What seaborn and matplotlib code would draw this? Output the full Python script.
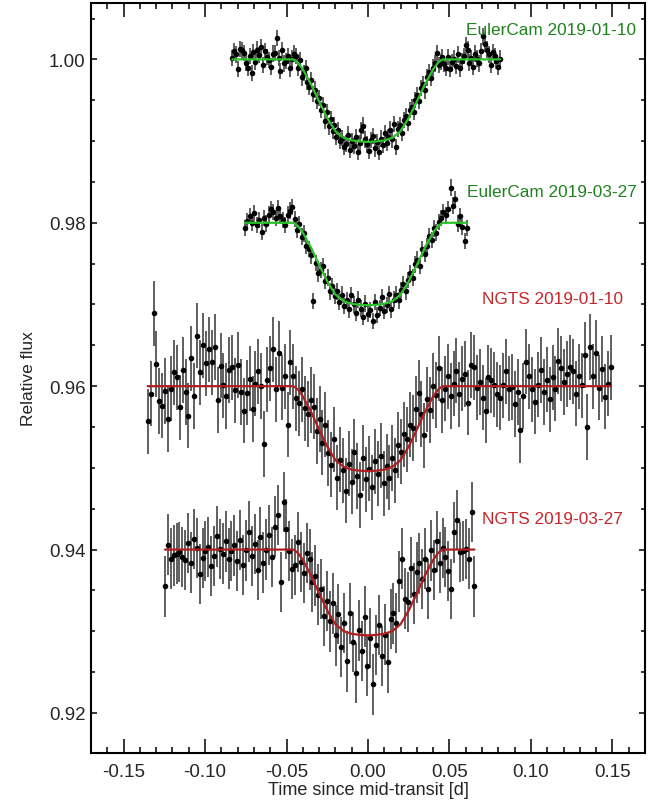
import numpy as np
import pandas as pd
import matplotlib
matplotlib.use("Agg")
import matplotlib.pyplot as plt
import seaborn as sns
from matplotlib.ticker import MultipleLocator, FormatStrFormatter

# ---------------- data ----------------
dataset_names = ["EulerCam 2019-01-10", "EulerCam 2019-03-27", "NGTS 2019-01-10", "NGTS 2019-03-27"]
dataset_colors_text = ["#1f821f", "#1f821f", "#c4262b", "#c4262b"]
dataset_colors_line = ["#2cc22c", "#2cc22c", "#b01e1e", "#b01e1e"]
baselines = [1.000, 0.980, 0.960, 0.940]
depths = [0.0101, 0.0101, 0.0104, 0.0105]
time_first = [-0.0833, -0.0755, -0.1352, -0.1246]
time_last = [0.0812, 0.0608, 0.1490, 0.0653]
flux_errors = [0.0010, 0.0010, 0.0040, 0.0037]
label_x = [0.060, 0.0605, 0.070, 0.070]
label_y = [1.0037, 0.9838, 0.9707, 0.9438]

flux_euler_0110 = [
    1.0002, 1.0010, 1.0006, 0.9988, 1.0013, 1.0011, 1.0008, 0.9996, 0.9990, 1.0004,
    0.9983, 1.0009, 0.9997, 1.0012, 1.0005, 1.0015, 0.9993, 1.0010, 1.0003, 0.9999,
    0.9991, 1.0007, 1.0008, 1.0026, 1.0002, 0.9986, 1.0011, 0.9995, 0.9998, 1.0004,
    0.9989, 1.0001, 1.0007,
    1.0004, 0.9990, 0.9999, 0.9978, 0.9983, 0.9989, 0.9972, 0.9966, 0.9975, 0.9958,
    0.9963, 0.9949, 0.9953, 0.9938, 0.9944, 0.9925, 0.9935, 0.9918, 0.9927, 0.9912,
    0.9920, 0.9905, 0.9913, 0.9900,
    0.9904, 0.9893, 0.9897, 0.9908, 0.9889, 0.9900, 0.9894, 0.9905, 0.9887, 0.9898,
    0.9913, 0.9919, 0.9902, 0.9896, 0.9888, 0.9901, 0.9906, 0.9891, 0.9899, 0.9887,
    0.9903, 0.9895, 0.9910, 0.9898, 0.9905, 0.9914, 0.9902, 0.9921,
    0.9893, 0.9915, 0.9920, 0.9910, 0.9926, 0.9931, 0.9922, 0.9938, 0.9942, 0.9936,
    0.9950, 0.9956, 0.9949, 0.9965, 0.9970, 0.9962, 0.9978, 0.9984, 0.9977, 0.9990,
    0.9995, 1.0008, 0.9993, 0.9997, 1.0003,
    0.9994, 0.9990, 1.0003, 0.9988, 0.9997, 1.0001, 0.9992, 1.0006, 0.9989, 0.9998,
    1.0004, 1.0017, 1.0012, 0.9996, 1.0002, 0.9991, 1.0007, 1.0001, 0.9995, 1.0010,
    1.0028, 1.0019, 1.0012, 1.0006, 0.9993, 1.0009, 1.0004, 0.9998, 0.9991, 1.0001,
]

flux_euler_0327 = [
    0.9794, 0.9802, 0.9808, 0.9800, 0.9812, 0.9797, 0.9803, 0.9789, 0.9806, 0.9799,
    0.9810, 0.9817, 0.9813, 0.9806, 0.9818, 0.9808, 0.9803, 0.9797, 0.9810, 0.9815,
    0.9819, 0.9805,
    0.9791, 0.9798, 0.9783, 0.9787, 0.9772, 0.9768, 0.9760, 0.9704, 0.9751, 0.9738,
    0.9742, 0.9747, 0.9729, 0.9733, 0.9716, 0.9722, 0.9710, 0.9716, 0.9703, 0.9712,
    0.9698,
    0.9705, 0.9694, 0.9711, 0.9700, 0.9690, 0.9706, 0.9695, 0.9685, 0.9701, 0.9688,
    0.9693, 0.9680, 0.9703, 0.9687, 0.9696, 0.9709, 0.9692, 0.9699, 0.9713, 0.9694,
    0.9706,
    0.9712, 0.9705, 0.9718, 0.9725, 0.9716, 0.9730, 0.9738, 0.9733, 0.9749, 0.9755,
    0.9747, 0.9768, 0.9762, 0.9771, 0.9784, 0.9779, 0.9793, 0.9788, 0.9801,
    0.9806, 0.9813, 0.9809, 0.9817, 0.9843, 0.9821, 0.9829, 0.9799, 0.9808, 0.9795,
    0.9778, 0.9794,
]

flux_ngts_0110 = [
    0.9557, 0.9591, 0.9689, 0.9627, 0.9582, 0.9576, 0.9594, 0.9560, 0.9597, 0.9617,
    0.9611, 0.9574, 0.9620, 0.9593, 0.9564, 0.9634, 0.9588, 0.9662, 0.9617, 0.9650,
    0.9628, 0.9645, 0.9629, 0.9648, 0.9583, 0.9625, 0.9601, 0.9588, 0.9620, 0.9623,
    0.9595, 0.9626, 0.9593, 0.9570, 0.9592, 0.9609, 0.9572, 0.9603, 0.9618, 0.9600,
    0.9529, 0.9608, 0.9622, 0.9645, 0.9596, 0.9640, 0.9598, 0.9612, 0.9553, 0.9629,
    0.9612, 0.9585, 0.9579, 0.9596, 0.9573, 0.9566, 0.9583, 0.9575, 0.9545, 0.9560,
    0.9531, 0.9553, 0.9518, 0.9504, 0.9535, 0.9488, 0.9510,
    0.9497, 0.9472, 0.9505, 0.9483, 0.9520, 0.9490, 0.9467, 0.9512, 0.9486, 0.9499,
    0.9476, 0.9508, 0.9493, 0.9515, 0.9481, 0.9502, 0.9488,
    0.9512, 0.9497, 0.9528, 0.9520, 0.9541, 0.9535, 0.9553, 0.9549, 0.9572, 0.9592,
    0.9566, 0.9540, 0.9584, 0.9571, 0.9600, 0.9589, 0.9622, 0.9583,
    0.9597, 0.9612, 0.9588, 0.9603, 0.9619, 0.9590, 0.9609, 0.9615, 0.9580, 0.9626,
    0.9623, 0.9598, 0.9605, 0.9586, 0.9570, 0.9611, 0.9607, 0.9602, 0.9590, 0.9586,
    0.9601, 0.9618, 0.9597, 0.9599, 0.9578, 0.9593, 0.9546, 0.9588, 0.9630, 0.9612,
    0.9596, 0.9581, 0.9602, 0.9620, 0.9593, 0.9608, 0.9584, 0.9611, 0.9597, 0.9631,
    0.9622, 0.9605, 0.9615, 0.9623, 0.9618, 0.9591, 0.9612, 0.9601, 0.9638, 0.9550,
    0.9648, 0.9612, 0.9641, 0.9598, 0.9621, 0.9587, 0.9603, 0.9623,
]

flux_ngts_0327 = [
    0.9355, 0.9406, 0.9389, 0.9393, 0.9395, 0.9397, 0.9391, 0.9387, 0.9408, 0.9384,
    0.9413, 0.9402, 0.9370, 0.9390, 0.9398, 0.9403, 0.9380, 0.9392, 0.9416, 0.9401,
    0.9395, 0.9410, 0.9389, 0.9398, 0.9405, 0.9386, 0.9412, 0.9381, 0.9399, 0.9422,
    0.9392, 0.9407, 0.9375, 0.9415, 0.9384, 0.9400, 0.9418, 0.9391, 0.9428, 0.9442,
    0.9360, 0.9458, 0.9425, 0.9398,
    0.9376, 0.9381, 0.9409, 0.9385, 0.9371, 0.9396, 0.9388, 0.9360, 0.9368, 0.9345,
    0.9352, 0.9319, 0.9337, 0.9312, 0.9334, 0.9295, 0.9321,
    0.9281, 0.9310, 0.9263, 0.9322, 0.9287, 0.9249, 0.9301, 0.9276, 0.9318, 0.9258,
    0.9292, 0.9235, 0.9283, 0.9308, 0.9270, 0.9296, 0.9262, 0.9315,
    0.9322, 0.9310, 0.9361, 0.9389, 0.9340, 0.9336, 0.9378, 0.9346, 0.9372, 0.9383,
    0.9364, 0.9389, 0.9352, 0.9399, 0.9375, 0.9410, 0.9384, 0.9402, 0.9391,
    0.9374, 0.9352, 0.9421, 0.9436, 0.9397, 0.9398, 0.9401, 0.9389, 0.9446, 0.9355,
]

all_flux = [flux_euler_0110, flux_euler_0327, flux_ngts_0110, flux_ngts_0327]

# transit model profile (fraction of full depth)
model_time = [-0.046, -0.045, -0.043, -0.040, -0.035, -0.030, -0.025, -0.020, -0.015, -0.010,
              -0.005, 0.000, 0.005, 0.010, 0.015, 0.020, 0.025, 0.030, 0.035, 0.040,
              0.043, 0.045, 0.046]
model_shape = [0.00, 0.01, 0.04, 0.12, 0.30, 0.51, 0.71, 0.87, 0.95, 0.982,
               0.995, 1.00, 0.995, 0.982, 0.95, 0.87, 0.71, 0.51, 0.30, 0.12,
               0.04, 0.01, 0.00]

# ---------------- tables ----------------
rows = []
mrows = []
for k, name in enumerate(dataset_names):
    fl = np.array(all_flux[k])
    tt = np.linspace(time_first[k], time_last[k], len(fl))  # regular cadence
    for a, b in zip(tt, fl):
        rows.append(dict(dataset=name, time=a, flux=b, err=flux_errors[k]))
    mt = [time_first[k]] + model_time + [time_last[k]]
    ms = [0.0] + model_shape + [0.0]
    for a, s in zip(mt, ms):
        mrows.append(dict(dataset=name, time=a, flux=baselines[k] - depths[k] * s))
df = pd.DataFrame(rows)
mdf = pd.DataFrame(mrows)

# ---------------- style ----------------
sns.set_theme(style="ticks")
plt.rcParams["font.family"] = ["Liberation Sans", "DejaVu Sans"]
plt.rcParams["axes.linewidth"] = 1.5

fig = plt.figure(figsize=(6.6, 8.12), dpi=100)
ax = fig.add_axes([91 / 660, 58 / 812, 554 / 660, 750 / 812])

ax.errorbar(df["time"], df["flux"], yerr=df["err"], fmt="none",
            ecolor="#444444", elinewidth=1.2, capsize=0, zorder=1)
sns.scatterplot(data=df, x="time", y="flux", color="black", s=16,
                linewidth=0, ax=ax, zorder=2, legend=False)
for k, name in enumerate(dataset_names):
    sns.lineplot(data=mdf[mdf["dataset"] == name], x="time", y="flux",
                 sort=False, estimator=None, color=dataset_colors_line[k],
                 lw=1.6, ax=ax, zorder=3)
    ax.text(label_x[k], label_y[k], name, color=dataset_colors_text[k],
            fontsize=12.4, ha="left", va="center")

ax.set_xlim(-0.17, 0.17)
ax.set_ylim(0.9151, 1.0069)
ax.xaxis.set_major_locator(MultipleLocator(0.05))
ax.xaxis.set_minor_locator(MultipleLocator(0.01))
ax.yaxis.set_major_locator(MultipleLocator(0.02))
ax.yaxis.set_minor_locator(MultipleLocator(0.005))
ax.xaxis.set_major_formatter(FormatStrFormatter("%.2f"))
ax.yaxis.set_major_formatter(FormatStrFormatter("%.2f"))

ax.tick_params(axis="both", which="both", direction="in", top=True, right=True,
               color="black", labelsize=13.5, width=1.1)
ax.tick_params(axis="x", which="major", length=10, pad=7)
ax.tick_params(axis="x", which="minor", length=4.3)
ax.tick_params(axis="y", which="major", length=4.3, pad=4)
ax.tick_params(axis="y", which="minor", length=3)
for sp in ax.spines.values():
    sp.set_visible(True)
    sp.set_linewidth(1.5)
    sp.set_color("black")

ax.set_xlabel("Time since mid-transit [d]", fontsize=13, labelpad=1)
ax.set_ylabel("Relative flux", fontsize=12.5, labelpad=9)

fig.savefig("out.png", dpi=100)
